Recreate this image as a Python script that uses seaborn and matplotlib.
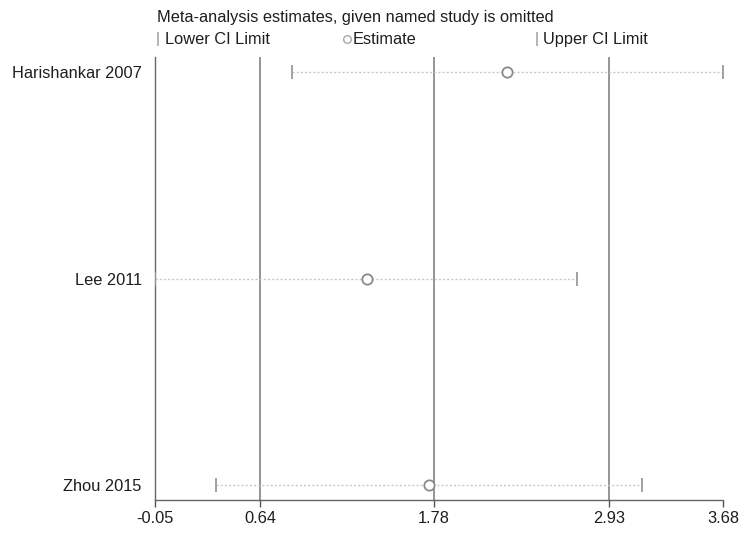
import matplotlib
matplotlib.use("Agg")
import matplotlib.pyplot as plt
from matplotlib.lines import Line2D
import seaborn as sns
import pandas as pd

# Leave-one-out sensitivity analysis
studies = ["Harishankar 2007", "Lee 2011", "Zhou 2015"]
lower_ci = [0.85, -0.05, 0.35]
estimate = [2.26, 1.34, 1.75]
upper_ci = [3.68, 2.72, 3.15]

# Pooled estimate with all studies and its confidence interval
pooled = [0.64, 1.78, 2.93]
tick_values = [-0.05, 0.64, 1.78, 2.93, 3.68]
tick_labels = ["-0.05", "0.64", "1.78", "2.93", "3.68"]

df = pd.DataFrame({"study": studies, "lower": lower_ci,
                   "estimate": estimate, "upper": upper_ci})
df["row"] = range(1, len(df) + 1)

sns.set_style("white")
plt.rcParams["font.family"] = ["Liberation Sans", "DejaVu Sans"]
FS = 11.8
TXT = "#1e1e1e"

fig = plt.figure(figsize=(7.42, 5.33), dpi=100)
ax = fig.add_axes([155 / 742, 1 - 500 / 533, (723 - 155) / 742, (500 - 57) / 533])

# reference lines for the pooled estimate and its CI
for v in pooled:
    ax.axvline(v, color="#8c8c8c", lw=1.3, zorder=1)

# CI lines
ax.hlines(df["row"], df["lower"], df["upper"], colors="#c8c8c8",
          linestyles=(0, (1.5, 1.5)), lw=1.0, zorder=2)

long = pd.concat([
    pd.DataFrame({"x": df["lower"], "row": df["row"], "kind": "lower"}),
    pd.DataFrame({"x": df["upper"], "row": df["row"], "kind": "upper"}),
])
sns.scatterplot(data=long, x="x", y="row", marker="|", s=110,
                color="#9a9a9a", linewidth=1.3, ax=ax, zorder=3, legend=False)
sns.scatterplot(data=df, x="estimate", y="row", marker="o", s=55,
                facecolor="white", edgecolor="#8a8a8a", linewidth=1.3,
                ax=ax, zorder=4, legend=False)

ax.set_xlim(-0.05, 3.68)
ax.set_ylim(3 + 15 / 206.5, 1 - 15 / 206.5)
ax.set_yticks(df["row"])
ax.set_yticklabels(df["study"])
ax.set_xticks(tick_values)
ax.set_xticklabels(tick_labels)
ax.set_xlabel("")
ax.set_ylabel("")
ax.tick_params(axis="y", length=0, pad=9.5, labelsize=FS, colors=TXT)
ax.tick_params(axis="x", length=5, width=1.0, color="#555555", pad=3,
               labelsize=FS, labelcolor=TXT, bottom=True)
for side in ["top", "right"]:
    ax.spines[side].set_visible(False)
for side in ["left", "bottom"]:
    ax.spines[side].set_color("#666666")
    ax.spines[side].set_linewidth(1.0)

# title and legend above the plot
fig.text(157 / 742, 1 - 22 / 533, "Meta-analysis estimates, given named study is omitted",
         fontsize=FS, color=TXT, va="baseline", ha="left")
ly = 1 - 39 / 533
base = 1 - 44 / 533
items = [(158, "|", "Lower CI Limit", 165), (347, "o", "Estimate", 353),
         (537, "|", "Upper CI Limit", 543)]
for xpix, mk, label, tx in items:
    if mk == "o":
        fig.add_artist(Line2D([xpix / 742], [ly], marker="o", markersize=5.5,
                              markerfacecolor="white", markeredgecolor="#a8a8a8",
                              markeredgewidth=1.0, linestyle="none",
                              transform=fig.transFigure))
    else:
        fig.add_artist(Line2D([xpix / 742], [ly], marker="|", markersize=10,
                              markeredgecolor="#a8a8a8", markeredgewidth=1.2,
                              linestyle="none", transform=fig.transFigure))
    fig.text(tx / 742, base, label, fontsize=FS, color=TXT,
             va="baseline", ha="left")

fig.savefig("out.png", dpi=100)
